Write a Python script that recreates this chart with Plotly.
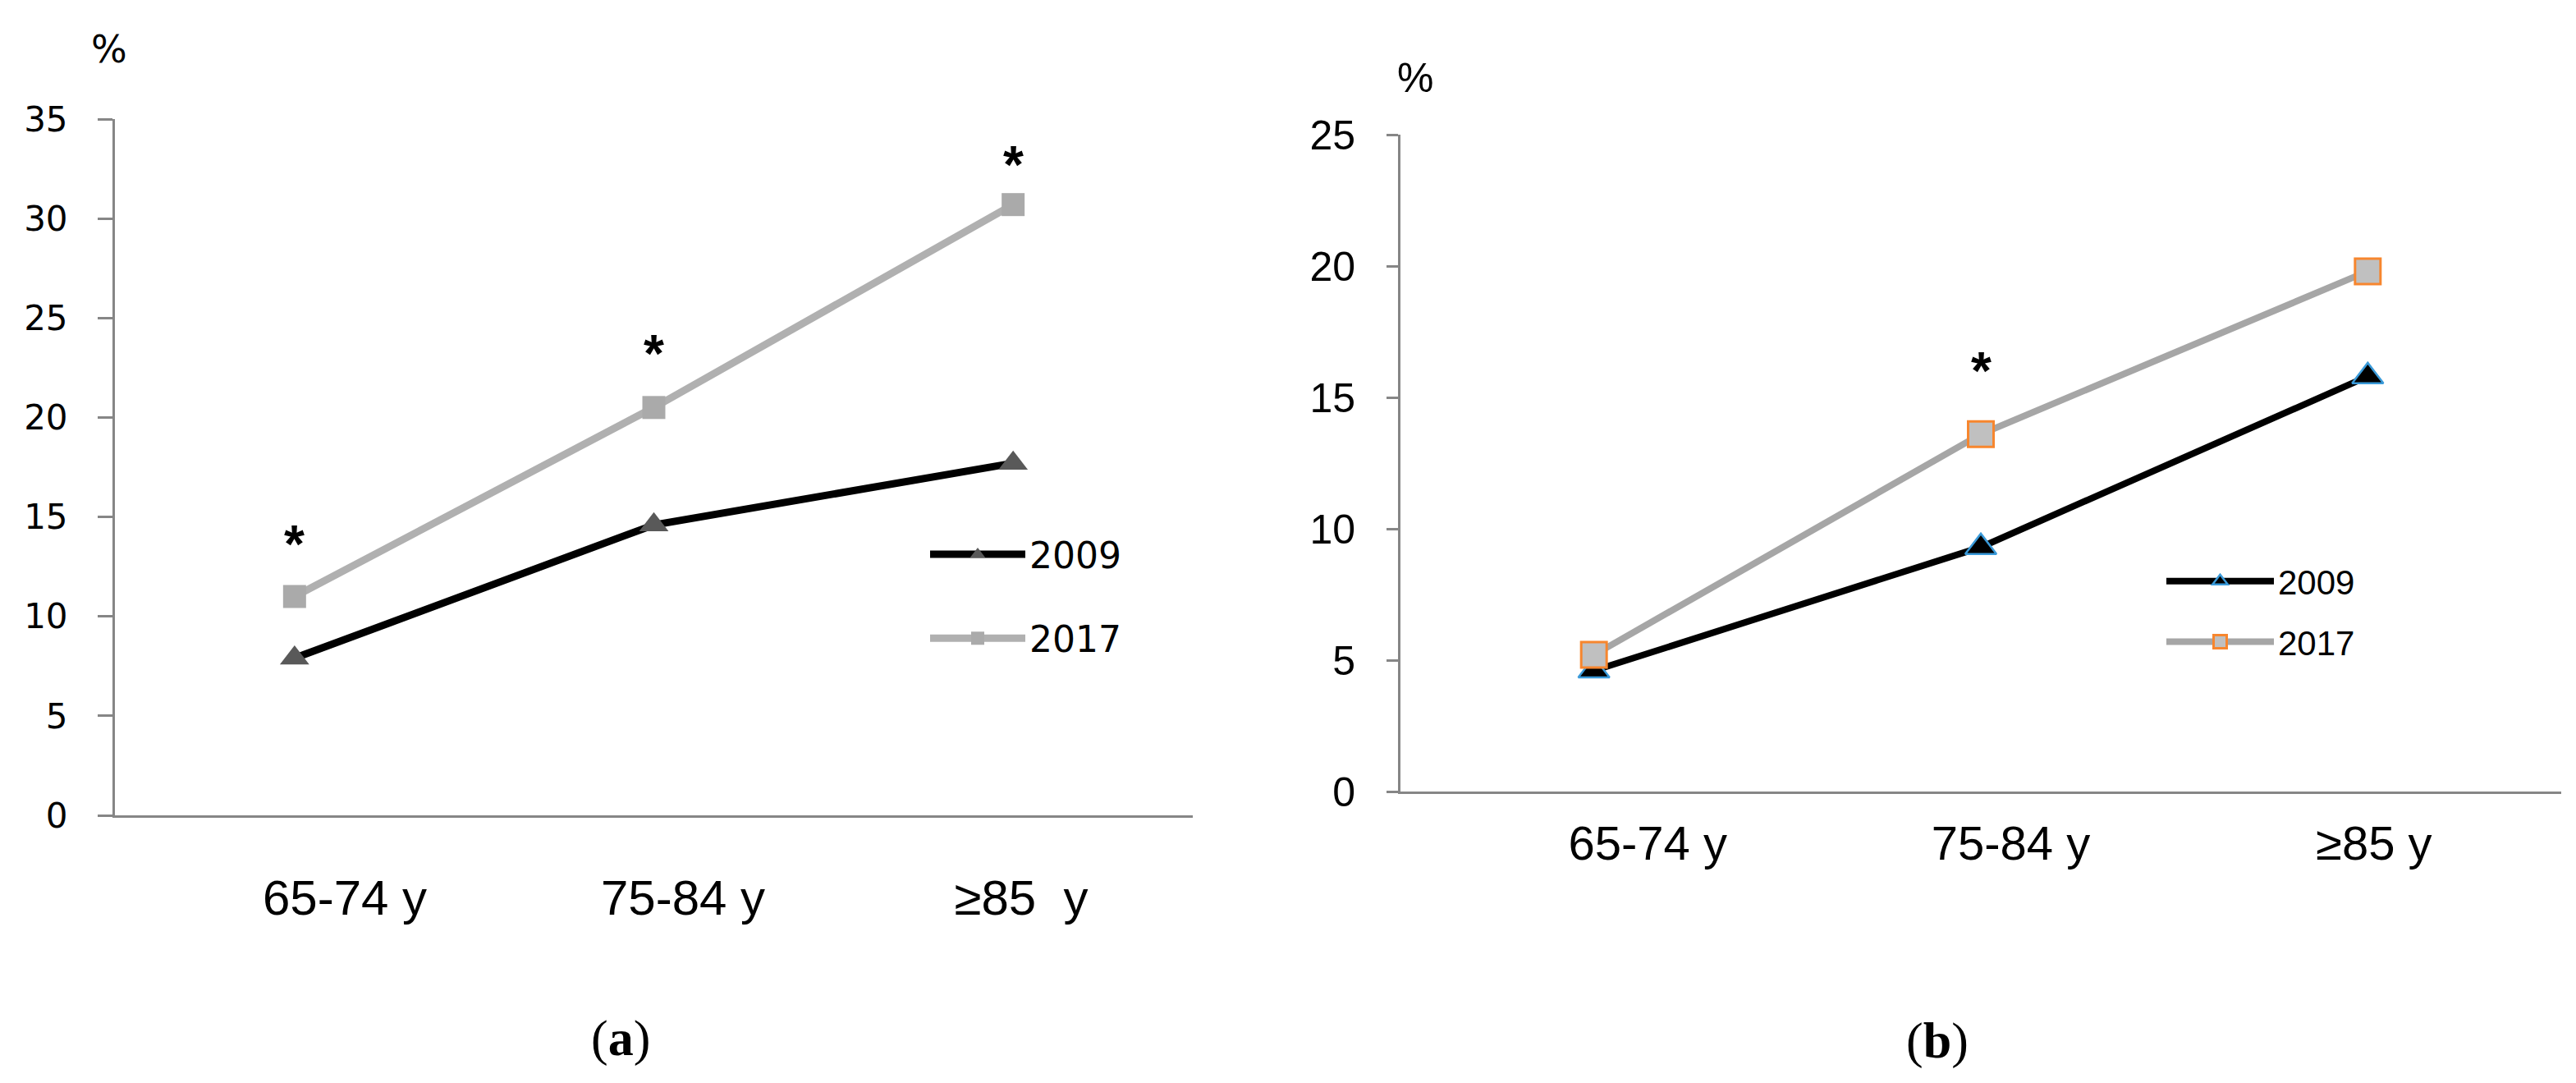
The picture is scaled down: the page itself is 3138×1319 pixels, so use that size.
import plotly.graph_objects as go

# ---------------- data ----------------
categories_a = ["65-74 y", "75-84 y", "\u226585\u00a0 y"]
categories_b = ["65-74 y", "75-84 y", "\u226585 y"]
series_names = ["2009", "2017"]

a_2009 = [7.9, 14.6, 17.7]
a_2017 = [11.0, 20.5, 30.7]
b_2009 = [4.6, 9.3, 15.8]
b_2017 = [5.2, 13.6, 19.8]

# significance markers (height of the asterisk, None = no asterisk)
a_sig = [13.6, 23.2, 32.7]
b_sig = [None, 16.0, None]

a_yticks = [0, 5, 10, 15, 20, 25, 30, 35]
b_yticks = [0, 5, 10, 15, 20, 25]
panel_labels = ["a", "b"]
unit_label = "%"

W, H = 3138, 1319
OFF = 8  # page body margin of the html page


def xp(px):
    return (px - OFF) / W


def yp(py):
    return 1 - (py - OFF) / H


AXIS_GREY = "#868686"

fig = go.Figure()

# ---------------- panel (a) ----------------
fig.add_trace(go.Scatter(
    x=categories_a, y=a_2009, name=series_names[0], mode="lines+markers",
    line=dict(color="#000000", width=9),
    marker=dict(symbol="triangle-up", size=31, color="#595959"),
    xaxis="x", yaxis="y", legend="legend", legendgroup="a1"))
fig.add_trace(go.Scatter(
    x=categories_a, y=a_2017, name=series_names[1], mode="lines+markers",
    line=dict(color="#B0B0B0", width=9),
    marker=dict(symbol="square", size=28, color="#AAAAAA"),
    xaxis="x", yaxis="y", legend="legend", legendgroup="a2"))

# ---------------- panel (b) ----------------
fig.add_trace(go.Scatter(
    x=categories_b, y=b_2009, name=series_names[0], mode="lines+markers",
    line=dict(color="#000000", width=8),
    marker=dict(symbol="triangle-up", size=33, color="#000000",
                line=dict(color="#3A9AD9", width=2.5)),
    xaxis="x2", yaxis="y2", legend="legend2", legendgroup="b1"))
fig.add_trace(go.Scatter(
    x=categories_b, y=b_2017, name=series_names[1], mode="lines+markers",
    line=dict(color="#A6A6A6", width=8),
    marker=dict(symbol="square", size=31, color="#C0C0C0",
                line=dict(color="#F7862E", width=3)),
    xaxis="x2", yaxis="y2", legend="legend2", legendgroup="b2"))

# empty carrier traces so the category-label axes get drawn
fig.add_trace(go.Scatter(x=list(range(len(categories_a))), y=[None] * len(categories_a),
                         mode="markers", xaxis="x3", yaxis="y", showlegend=False,
                         hoverinfo="skip"))
fig.add_trace(go.Scatter(x=list(range(len(categories_b))), y=[None] * len(categories_b),
                         mode="markers", xaxis="x4", yaxis="y2", showlegend=False,
                         hoverinfo="skip"))

annotations = []
for cat, s in zip(categories_a, a_sig):
    if s is not None:
        annotations.append(dict(x=cat, y=s, xref="x", yref="y", text="<b>*</b>",
                                xanchor="center", yanchor="middle", showarrow=False,
                                font=dict(family="Liberation Sans", size=64, color="#000")))
for cat, s in zip(categories_b, b_sig):
    if s is not None:
        annotations.append(dict(x=cat, y=s, xref="x2", yref="y2", text="<b>*</b>",
                                xanchor="center", yanchor="middle", showarrow=False,
                                font=dict(family="Liberation Sans", size=64, color="#000")))

# unit labels
annotations.append(dict(x=xp(133), y=yp(60), xref="paper", yref="paper", text=unit_label,
                        xanchor="center", yanchor="middle", showarrow=False,
                        font=dict(family="DejaVu Sans", size=46, color="#000")))
annotations.append(dict(x=xp(1724), y=yp(95), xref="paper", yref="paper", text=unit_label,
                        xanchor="center", yanchor="middle", showarrow=False,
                        font=dict(family="Liberation Sans", size=50, color="#000")))

# panel captions
annotations.append(dict(x=xp(756), y=yp(1264), xref="paper", yref="paper",
                        text="(<b>%s</b>)" % panel_labels[0], showarrow=False,
                        xanchor="center", yanchor="middle",
                        font=dict(family="Liberation Serif", size=62, color="#000")))
annotations.append(dict(x=xp(2360), y=yp(1267), xref="paper", yref="paper",
                        text="(<b>%s</b>)" % panel_labels[1], showarrow=False,
                        xanchor="center", yanchor="middle",
                        font=dict(family="Liberation Serif", size=62, color="#000")))

common_x = dict(type="category", range=[-0.5, 2.5], showline=True, linecolor=AXIS_GREY,
                linewidth=3, ticks="", showgrid=False, zeroline=False, automargin=False,
                showticklabels=False)
label_x = dict(type="linear", range=[-0.5, 2.5], showline=False, ticks="", showgrid=False,
               zeroline=False, automargin=False, fixedrange=True)
common_y = dict(showline=True, linecolor=AXIS_GREY, linewidth=3, ticks="outside",
                tickcolor=AXIS_GREY, tickwidth=3, showgrid=False, zeroline=False,
                automargin=False)

fig.update_layout(
    width=W, height=H, autosize=False,
    margin=dict(l=0, r=0, t=0, b=0, pad=0, autoexpand=False),
    paper_bgcolor="white", plot_bgcolor="rgba(0,0,0,0)",
    xaxis=dict(common_x, domain=[xp(140), xp(1453)], anchor="y"),
    yaxis=dict(common_y, domain=[yp(993), yp(145)], anchor="x", range=[0, 35],
               tickvals=a_yticks, ticklen=18,
               tickfont=dict(family="DejaVu Sans", size=42, color="#000"),
               ticklabelstandoff=28),
    xaxis2=dict(common_x, domain=[xp(1706), xp(3120)], anchor="y2"),
    yaxis2=dict(common_y, domain=[yp(964), yp(164)], anchor="x2", range=[0, 25],
                tickvals=b_yticks, ticklen=14,
                tickfont=dict(family="Liberation Sans", size=50, color="#000"),
                ticklabelstandoff=28),
    # category label rows (Excel-style text placement under each panel)
    xaxis3=dict(label_x, domain=[xp(214), xp(1450)], anchor="y",
                tickvals=list(range(len(categories_a))), ticktext=categories_a,
                tickfont=dict(family="Liberation Sans", size=60, color="#000"),
                ticklabelstandoff=60),
    xaxis4=dict(label_x, domain=[xp(1786), xp(3113)], anchor="y2",
                tickvals=list(range(len(categories_b))), ticktext=categories_b,
                tickfont=dict(family="Liberation Sans", size=58, color="#000"),
                ticklabelstandoff=24),
    legend=dict(x=xp(1128), y=yp(640), xanchor="left", yanchor="top",
                font=dict(family="DejaVu Sans", size=44, color="#000"),
                itemwidth=116, tracegroupgap=42, bgcolor="rgba(0,0,0,0)"),
    legend2=dict(x=xp(2634), y=yp(674), xanchor="left", yanchor="top",
                 font=dict(family="Liberation Sans", size=42, color="#000"),
                 itemwidth=131, tracegroupgap=16, bgcolor="rgba(0,0,0,0)"),
    annotations=annotations,
)

fig.write_html("out.html")
